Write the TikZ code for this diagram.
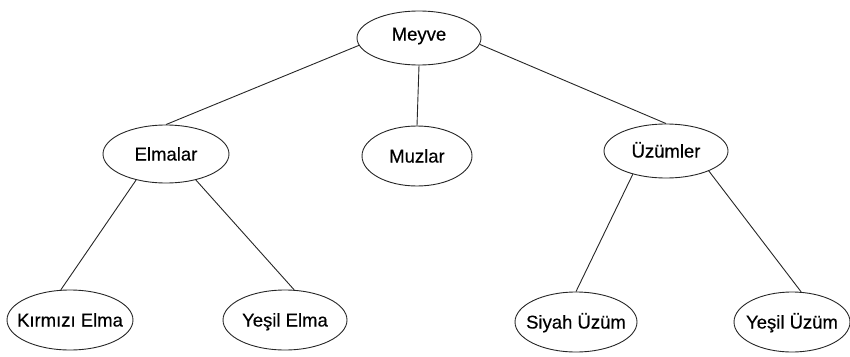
\documentclass[tikz,border=0pt]{standalone}
\usepackage{fontspec}
\setmainfont{Liberation Sans}
\newfontfamily\labelfont{Liberation Sans}[FakeBold=0.4]
\usetikzlibrary{shapes.geometric}
\begin{document}
\begin{tikzpicture}[x=1pt,y=-1pt,
  font=\labelfont\fontsize{18.5}{20}\selectfont,
  fruit/.style={ellipse, draw=black!85, line width=0.9pt, inner sep=0pt},
  every label/.style={text height=13pt, text depth=0pt, inner sep=0pt},
  link/.style={draw=black!85, line width=0.9pt}]
\useasboundingbox (0,0) rectangle (850,356);

% tree nodes
\node[fruit, minimum width=124pt, minimum height=54pt,
      label={[yshift=4pt]center:Meyve}] (meyve) at (419,38) {};
\node[fruit, minimum width=126pt, minimum height=58pt,
      label={center:Elmalar}] (elmalar) at (166,154) {};
\node[fruit, minimum width=110pt, minimum height=60pt,
      label={center:Muzlar}] (muzlar) at (417,156) {};
\node[fruit, minimum width=124pt, minimum height=54pt,
      label={center:Üzümler}] (uzumler) at (666,151) {};
\node[fruit, minimum width=126pt, minimum height=60pt,
      label={center:Kırmızı Elma}] (kirmizi) at (70,320) {};
\node[fruit, minimum width=124pt, minimum height=60pt,
      label={center:Yeşil Elma}] (yesilelma) at (285,320) {};
\node[fruit, minimum width=122pt, minimum height=60pt,
      label={center:Siyah Üzüm}] (siyah) at (576,322) {};
\node[fruit, minimum width=116pt, minimum height=60pt,
      label={center:Yeşil Üzüm}] (yesiluzum) at (792,322) {};

% branches
\draw[link] (meyve.187) -- (elmalar.north);
\draw[link] (meyve.south) -- (muzlar.north);
\draw[link] (meyve.354) -- (uzumler.north);
\draw[link] (elmalar.221) -- (kirmizi.107);
\draw[link] (elmalar.319) -- (yesilelma.73);
\draw[link] (uzumler.215) -- (siyah.north);
\draw[link] (uzumler.335) -- (yesiluzum.73);
\end{tikzpicture}
\end{document}
